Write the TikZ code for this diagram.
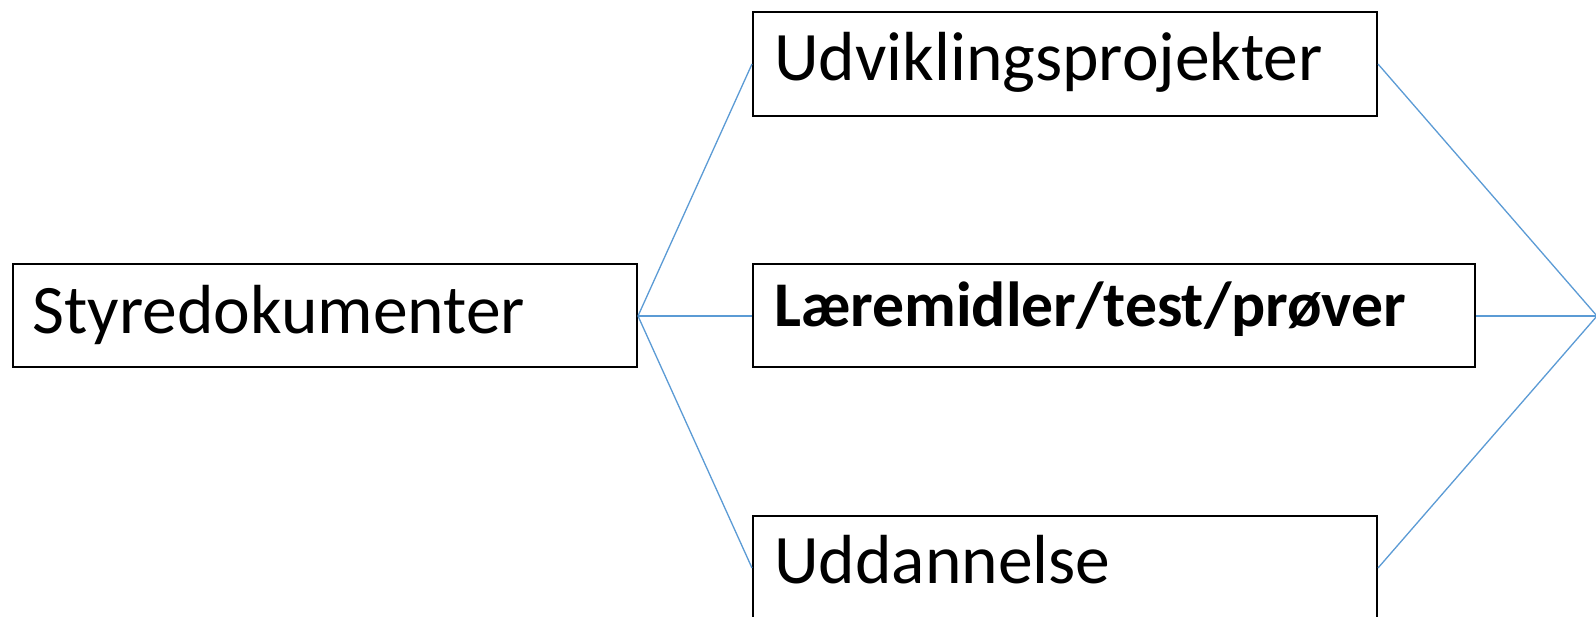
\documentclass[tikz,border=0pt]{standalone}
\usepackage{fontspec}
\setmainfont{Carlito}
\definecolor{linkblue}{RGB}{91,155,213}
\begin{document}
\begin{tikzpicture}[x=1pt,y=-1pt,
  box/.style={draw=black,line width=2pt,inner sep=0pt,fill=white},
  lbl/.style={anchor=base west,inner sep=0pt,font=\fontsize{69.5}{80}\selectfont},
  blbl/.style={anchor=base west,inner sep=0pt,font=\fontsize{63.7}{75}\selectfont\bfseries},
  link/.style={draw=linkblue,line width=1.3pt}]
\useasboundingbox (0,0) rectangle (1596,617);
\fill[white] (0,0) rectangle (1596,617);
\node[box,minimum width=624pt,minimum height=103pt] (A) at (325,316) {};
\node[box,minimum width=624pt,minimum height=104pt] (B) at (1065,64) {};
\node[box,minimum width=722pt,minimum height=103pt] (C) at (1114,316) {};
\node[box,minimum width=624pt,minimum height=104pt] (D) at (1065,568) {};
\coordinate (R) at (1597,316);
\node[lbl] (tA) at (32.5,334) {Styredokumenter};
\node[lbl] (tB) at (774,81) {Udviklingsprojekter};
\node[blbl] (tC) at (774,327) {Læremidler/test/prøver};
\node[lbl] (tD) at (774,583) {Uddannelse};
\draw[link] (A.east) -- (B.west);
\draw[link] (A.east) -- (C.west);
\draw[link] (A.east) -- (D.west);
\draw[link] (B.east) -- (R);
\draw[link] (C.east) -- (R);
\draw[link] (D.east) -- (R);
\end{tikzpicture}
\end{document}
